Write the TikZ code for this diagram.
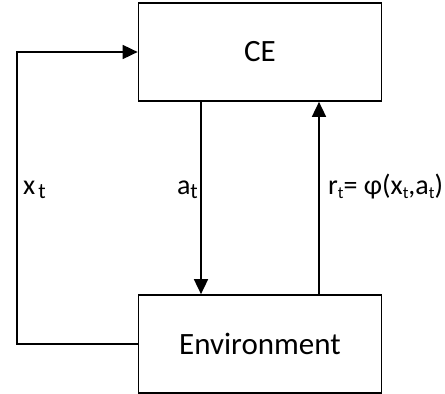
\documentclass[tikz,border=0pt]{standalone}
\usepackage{fontspec}
\setmainfont{Carlito}
\usetikzlibrary{arrows.meta}
% lowered subscript at a given point size
\newcommand{\lowsub}[2]{\raisebox{-0.14em}{\fontsize{#1}{#1}\selectfont #2}}
\begin{document}
\begin{tikzpicture}[x=1pt,y=1pt,
  block/.style={draw, line width=1.7pt, minimum width=243pt, minimum height=98pt,
                inner sep=0pt, font=\fontsize{31}{36}\selectfont},
  link/.style={line width=1.7pt, -{Triangle[length=15pt,width=14pt]}},
  lbl/.style={font=\fontsize{28}{32}\selectfont, inner sep=0pt}]
\useasboundingbox (0,0) rectangle (445,394);
% the two blocks of the loop
\node[block] (ce)  at (260,342) {CE};
\node[block] (env) at (260,50)  {Environment};
% state feedback from the environment to CE
\coordinate (bl) at (17,50);
\coordinate (tl) at (17,342);
\draw[link] (env.west) -- (bl) -- (tl) -- (ce.west);
% action and reward
\draw[link] (ce.south -| 201,0) -- (env.north -| 201,0);
\draw[link] (env.north -| 319,0) -- (ce.south -| 319,0);
% labels
\node[lbl, anchor=base west] (xl) at (23,199) {x\hspace{3pt}\lowsub{22}{t}};
\node[lbl, anchor=base east] (al) at (198,199) {a\lowsub{22}{t}};
\node[lbl, anchor=base west] (rl) at (328,199)
  {r\lowsub{17}{t}= φ(x\lowsub{17}{t},a\lowsub{17}{t})};
\end{tikzpicture}
\end{document}
